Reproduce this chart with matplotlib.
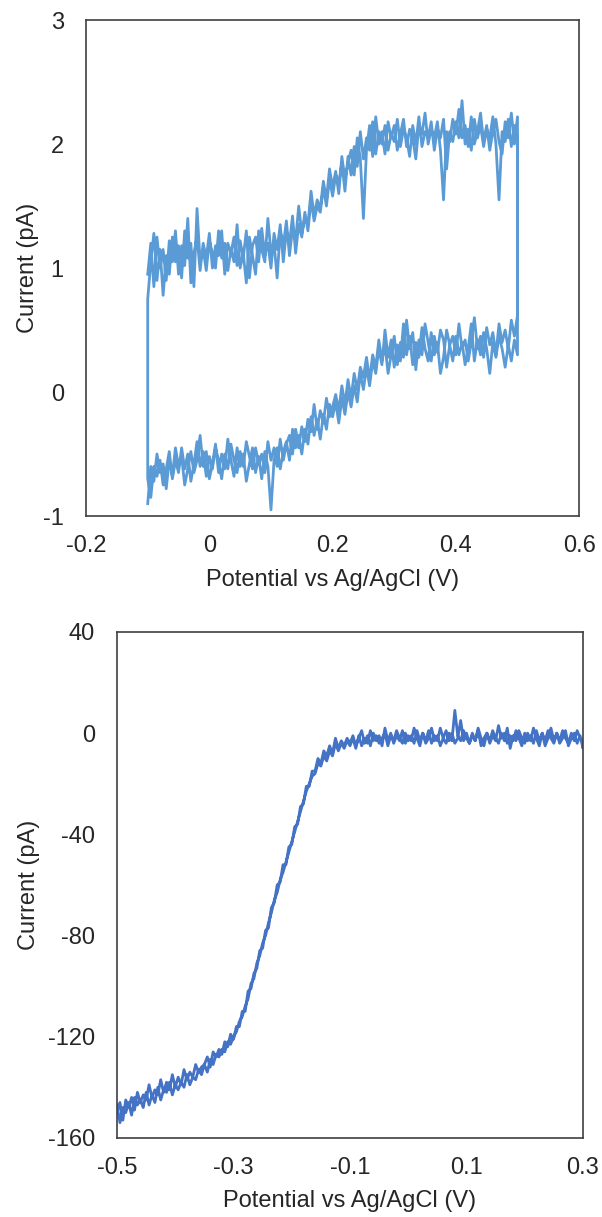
import numpy as np
import matplotlib.pyplot as plt

plt.rcParams['font.family'] = ['Liberation Sans', 'DejaVu Sans']

# ---- top panel: cyclic voltammogram, two cycles, -0.1 V .. 0.5 V ----
cv_x = np.linspace(-0.1, 0.5, 121)   # potential sweep, 5 mV step

cv_fwd1 = [0.95, 1.20, 0.85, 1.25, 1.00, 1.15, 0.90, 1.22, 1.05, 1.30,
           0.95, 1.18, 1.02, 1.40, 0.88, 1.12, 1.25, 0.98, 1.20, 1.08,
           1.28, 1.00, 1.18, 1.10, 1.30, 0.95, 1.20, 1.12, 1.25, 1.02,
           1.22, 1.08, 1.30, 0.92, 1.18, 1.25, 1.05, 1.32, 1.10, 1.20,
           1.00, 1.28, 1.15, 1.35, 1.05, 1.30, 1.20, 1.42, 1.12, 1.35,
           1.25, 1.45, 1.30, 1.55, 1.38, 1.50, 1.45, 1.65, 1.50, 1.72,
           1.58, 1.75, 1.68, 1.85, 1.62, 1.90, 1.75, 1.98, 1.82, 2.10,
           1.88, 2.05, 1.95, 2.18, 1.92, 2.10, 2.00, 2.15, 1.95, 2.08,
           2.02, 2.20, 1.98, 2.12, 2.05, 1.90, 2.15, 2.00, 2.22, 1.98,
           2.10, 2.05, 2.18, 1.95, 2.12, 2.05, 2.20, 1.80, 2.10, 2.02,
           2.18, 2.05, 2.35, 2.00, 2.12, 1.95, 2.20, 2.05, 2.15, 1.98,
           2.12, 2.05, 2.22, 2.00, 1.55, 2.10, 2.02, 2.20, 1.98, 2.15,
           2.05]
cv_rev1 = [0.62, 0.45, 0.58, 0.35, 0.50, 0.40, 0.55, 0.30, 0.48, 0.38,
           0.52, 0.28, 0.45, 0.35, 0.60, 0.40, 0.25, 0.42, 0.35, 0.55,
           0.30, 0.45, 0.38, 0.20, 0.42, 0.50, 0.32, 0.45, 0.25, 0.40,
           0.55, 0.30, 0.42, 0.18, 0.48, 0.35, 0.58, 0.28, 0.40, 0.22,
           0.45, 0.30, 0.15, 0.38, 0.25, 0.42, 0.20, 0.30, 0.10, 0.28,
           0.12, 0.20, 0.02, 0.15, -0.05, 0.10, -0.10, 0.05, -0.15, -0.02,
           -0.12, -0.20, -0.05, -0.25, -0.15, -0.30, -0.10, -0.32, -0.22, -0.40,
           -0.28, -0.45, -0.30, -0.50, -0.35, -0.42, -0.55, -0.38, -0.60, -0.45,
           -0.55, -0.40, -0.65, -0.50, -0.58, -0.45, -0.62, -0.52, -0.40, -0.60,
           -0.48, -0.65, -0.55, -0.42, -0.62, -0.50, -0.70, -0.55, -0.45, -0.62,
           -0.52, -0.68, -0.48, -0.60, -0.40, -0.58, -0.72, -0.50, -0.62, -0.45,
           -0.65, -0.55, -0.70, -0.48, -0.62, -0.75, -0.55, -0.68, -0.60, -0.85,
           -0.70]
cv_fwd2 = [0.75, 1.05, 1.28, 0.90, 1.15, 0.78, 1.10, 0.95, 1.25, 1.05,
           1.18, 0.92, 1.30, 1.08, 1.20, 0.85, 1.48, 1.05, 1.15, 0.98,
           1.22, 1.12, 1.00, 1.30, 1.08, 1.20, 0.98, 1.15, 1.05, 1.35,
           1.00, 1.12, 0.88, 1.25, 1.10, 0.95, 1.30, 1.15, 1.05, 1.40,
           1.12, 1.20, 0.92, 1.30, 1.18, 1.38, 1.10, 1.32, 1.22, 1.50,
           1.28, 1.40, 1.35, 1.62, 1.42, 1.55, 1.48, 1.70, 1.55, 1.80,
           1.65, 1.78, 1.60, 1.90, 1.72, 1.85, 1.95, 1.75, 2.05, 1.88,
           1.40, 1.95, 2.15, 1.90, 2.22, 2.00, 2.10, 1.92, 2.18, 2.05,
           2.15, 1.95, 2.08, 2.20, 1.98, 2.12, 2.05, 1.88, 2.15, 2.08,
           2.25, 2.00, 2.12, 2.05, 2.18, 1.95, 1.55, 2.10, 2.02, 2.20,
           2.08, 2.28, 2.05, 2.15, 1.98, 2.22, 2.00, 2.10, 2.25, 2.02,
           2.15, 1.95, 2.10, 2.20, 2.02, 1.92, 2.18, 2.05, 2.25, 2.00,
           2.22]
cv_rev2 = [0.30, 0.42, 0.25, 0.38, 0.20, 0.35, 0.45, 0.28, 0.40, 0.15,
           0.35, 0.48, 0.30, 0.42, 0.25, 0.55, 0.35, 0.22, 0.40, 0.30,
           0.45, 0.25, 0.38, 0.50, 0.28, 0.15, 0.40, 0.30, 0.48, 0.25,
           0.35, 0.52, 0.28, 0.40, 0.22, 0.45, 0.30, 0.55, 0.25, 0.38,
           0.20, 0.42, 0.28, 0.50, 0.22, 0.35, 0.15, 0.25, 0.05, 0.20,
           0.02, 0.15, -0.08, 0.05, -0.12, 0.00, -0.18, -0.05, -0.25, -0.08,
           -0.20, -0.10, -0.30, -0.18, -0.38, -0.22, -0.35, -0.20, -0.42, -0.30,
           -0.50, -0.35, -0.45, -0.30, -0.55, -0.40, -0.48, -0.62, -0.45, -0.55,
           -0.95, -0.60, -0.48, -0.70, -0.52, -0.65, -0.45, -0.58, -0.72, -0.50,
           -0.60, -0.45, -0.68, -0.55, -0.38, -0.62, -0.50, -0.65, -0.42, -0.58,
           -0.70, -0.48, -0.60, -0.35, -0.55, -0.65, -0.48, -0.62, -0.75, -0.52,
           -0.60, -0.45, -0.68, -0.55, -0.78, -0.58, -0.65, -0.50, -0.72, -0.60,
           -0.90]

# ---- bottom panel: sigmoidal sweep, -0.5 V .. 0.3 V and back ----
lsv_x = np.linspace(-0.5, 0.3, 161)  # potential sweep, 5 mV step

lsv_fwd = [-150, -146, -153, -145, -148, -144, -149, -142, -146, -143,
           -145, -139, -144, -141, -143, -137, -142, -138, -141, -135,
           -140, -136, -139, -133, -137, -134, -136, -131, -134, -132,
           -131, -128, -132, -126, -128, -125, -127, -122, -124, -119,
           -121, -116, -116, -110, -110, -102, -101, -95, -93, -86,
           -85, -78, -77, -69, -67, -60, -59, -52, -52, -45,
           -44, -37, -36, -29, -28, -21, -21, -15, -15, -10,
           -12, -7, -9, -5, -8, -2, -6, -3, -5, -2,
           -4, -1, -5, -2, 1, -4, -1, -5, 0, -3,
           -1, -5, 2, -3, 0, -4, -1, -3, 1, -4,
           -1, -3, 2, -2, -5, 0, -3, 1, -4, -1,
           -3, 2, -2, -4, 0, -3, 9, -1, -3, 1,
           -2, -4, 0, -3, 2, -2, -5, 0, -3, 1,
           -2, -4, 0, -3, 2, -6, -1, -3, 1, -2,
           -4, 0, -3, 2, -2, -5, 0, -3, 1, -2,
           -4, 0, -3, 1, -2, -4, 0, -3, 1, -2,
           -3]
lsv_rev = [-6, -1, -4, 0, -2, -5, 1, -2, -4, 0,
           -3, 2, -2, -5, 0, -3, 1, -4, -1, -3,
           0, -5, -2, 1, -3, -1, -4, 0, -2, 3,
           -3, -1, -4, 0, -2, -5, 1, -3, -1, -4,
           0, -3, 5, -2, -4, 0, -3, 1, -2, -5,
           -1, -3, 2, -2, -4, 0, -3, 1, -4, -1,
           -3, 0, -4, -2, 1, -3, -1, -5, 0, -2,
           -4, -1, -3, 1, -4, -2, -5, -1, -6, -2,
           -5, -3, -6, -4, -7, -4, -9, -7, -11, -9,
           -13, -12, -16, -17, -20, -23, -27, -31, -35, -39,
           -43, -47, -51, -55, -58, -63, -66, -71, -75, -80,
           -83, -88, -91, -97, -99, -105, -108, -112, -114, -118,
           -120, -123, -122, -126, -125, -128, -127, -131, -129, -134,
           -131, -135, -133, -137, -136, -139, -135, -140, -138, -141,
           -139, -143, -138, -142, -141, -145, -140, -146, -143, -147,
           -142, -148, -145, -147, -144, -151, -146, -150, -148, -154,
           -147]

top_xticks = [-0.2, 0, 0.2, 0.4, 0.6]
top_yticks = [-1, 0, 1, 2, 3]
bot_xticks = [-0.5, -0.3, -0.1, 0.1, 0.3]
bot_yticks = [-160, -120, -80, -40, 0, 40]

xlabel = 'Potential vs Ag/AgCl (V)'
ylabel = 'Current (pA)'
FS = 17


def style_axes(ax):
    for s in ax.spines.values():
        s.set_color('#404040')
        s.set_linewidth(1.2)
    ax.tick_params(length=0, labelsize=FS, labelcolor='#262626')
    ax.tick_params(axis='x', pad=14)
    ax.tick_params(axis='y', pad=16)


fig = plt.figure(figsize=(6.02, 12.17), dpi=100)

# top
ax1 = fig.add_axes([0.1430, 0.5760, 0.819, 0.4075])
x_loop = np.concatenate([cv_x, cv_x[::-1], cv_x, cv_x[::-1]])
y_loop = np.concatenate([cv_fwd1, cv_rev1, cv_fwd2, cv_rev2])
ax1.plot(x_loop, y_loop, color='#5B9BD5', lw=2.0)
ax1.set_xlim(-0.2, 0.6)
ax1.set_ylim(-1, 3)
ax1.set_xticks(top_xticks)
ax1.set_xticklabels(['-0.2', '0', '0.2', '0.4', '0.6'])
ax1.set_yticks(top_yticks)
ax1.set_yticklabels([str(v) for v in top_yticks])
ax1.set_xlabel(xlabel, fontsize=FS, color='#262626', labelpad=8)
ax1.set_ylabel(ylabel, fontsize=FS, color='#262626')
ax1.yaxis.set_label_coords(-0.095, 0.5)
style_axes(ax1)

# bottom
ax2 = fig.add_axes([0.1944, 0.0650, 0.774, 0.4157])
x_lsv = np.concatenate([lsv_x, lsv_x[::-1]])
y_lsv = np.concatenate([lsv_fwd, lsv_rev])
ax2.plot(x_lsv, y_lsv, color='#4472C4', lw=2.0)
ax2.set_xlim(-0.5, 0.3)
ax2.set_ylim(-160, 40)
ax2.set_xticks(bot_xticks)
ax2.set_xticklabels(['-0.5', '-0.3', '-0.1', '0.1', '0.3'])
ax2.set_yticks(bot_yticks)
ax2.set_yticklabels([str(v) for v in bot_yticks])
ax2.set_xlabel(xlabel, fontsize=FS, color='#262626', labelpad=8)
ax2.set_ylabel(ylabel, fontsize=FS, color='#262626')
ax2.yaxis.set_label_coords(-0.165, 0.5)
style_axes(ax2)

fig.savefig('out.png', dpi=100)
